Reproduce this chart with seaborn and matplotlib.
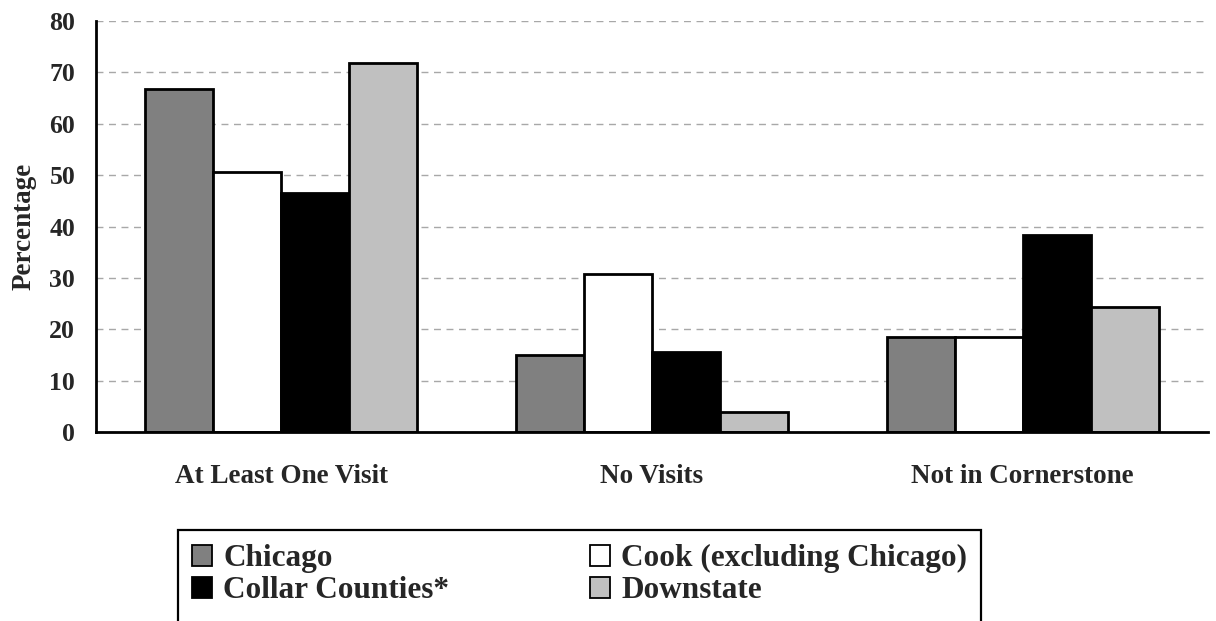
import matplotlib
matplotlib.use("Agg")
import matplotlib.pyplot as plt
from matplotlib.patches import Patch, Rectangle
import seaborn as sns
import pandas as pd

categories = ["At Least One Visit", "No Visits", "Not in Cornerstone"]
regions = ["Chicago", "Cook (excluding Chicago)", "Collar Counties*", "Downstate"]
chicago = [66.7, 14.9, 18.5]
cook = [50.6, 30.8, 18.4]
collar = [46.6, 15.6, 38.4]
downstate = [71.8, 3.9, 24.4]
region_colors = ["#808080", "#ffffff", "#000000", "#c0c0c0"]
y_ticks = [0, 10, 20, 30, 40, 50, 60, 70, 80]

rows = []
for region, values in zip(regions, [chicago, cook, collar, downstate]):
    for cat, v in zip(categories, values):
        rows.append({"Category": cat, "Region": region, "Percentage": v})
df = pd.DataFrame(rows)

sns.set_theme(style="white")
plt.rcParams["font.family"] = ["Liberation Serif", "DejaVu Serif"]
plt.rcParams["font.weight"] = "bold"

W, H = 1216, 621
fig = plt.figure(figsize=(W / 100, H / 100), dpi=100)
ax = fig.add_axes([96 / W, 1 - 432 / H, (1208 - 96) / W, (432 - 21) / H])

sns.barplot(data=df, x="Category", y="Percentage", hue="Region",
            hue_order=regions, order=categories,
            palette=region_colors, width=0.733, gap=0,
            edgecolor="black", linewidth=2.0, ax=ax, legend=False)

ax.set_ylim(0, 80)
ax.set_yticks(y_ticks)
ax.set_xlim(-0.5, 2.5)
ax.yaxis.grid(True, linestyle=(0, (5, 4)), color="#a8a8a8", linewidth=1.0)
ax.set_axisbelow(True)
for side in ["top", "right"]:
    ax.spines[side].set_visible(False)
for side in ["left", "bottom"]:
    ax.spines[side].set_color("black")
    ax.spines[side].set_linewidth(2)
ax.tick_params(axis="y", length=0, labelsize=18.5, pad=15)
ax.tick_params(axis="x", length=0, labelsize=19.5, pad=23)
for lbl in ax.get_xticklabels() + ax.get_yticklabels():
    lbl.set_fontweight("bold")
ax.set_xlabel("")
ax.set_ylabel("Percentage", fontsize=19.5, fontweight="bold", labelpad=9)

handles = [Patch(facecolor=c, edgecolor="black", linewidth=1.3) for c in region_colors]
order = [0, 2, 1, 3]
leg = fig.legend([handles[i] for i in order], [regions[i] for i in order],
                 loc="upper left", bbox_to_anchor=(178 / W, 1 - 530 / H),
                 ncol=2, frameon=False,
                 prop={"size": 22.5, "weight": "bold"},
                 handlelength=0.65, handleheight=0.65, handletextpad=0.35,
                 columnspacing=4.5, labelspacing=0.1, borderpad=0.45,
                 borderaxespad=0)

# Legend box runs past the lower edge of the figure
fig.canvas.draw()
bb = leg.get_window_extent()
box = Rectangle((bb.x0, -40), bb.width, bb.y1 + 40, transform=None,
                fill=False, edgecolor="black", linewidth=1.6)
fig.add_artist(box)

fig.savefig("out.png", dpi=100)
